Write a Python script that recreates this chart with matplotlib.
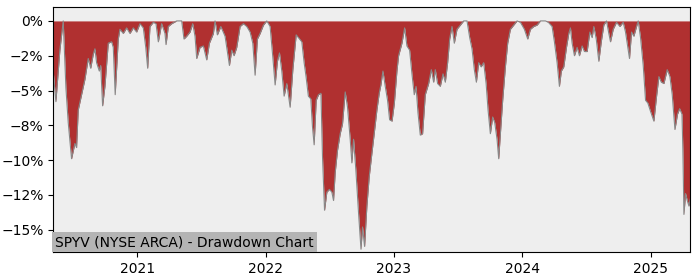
import matplotlib
matplotlib.use("Agg")
import matplotlib.pyplot as plt
import matplotlib.ticker as mticker
import matplotlib.dates as mdates
import pandas as pd

# dates as decimal years, drawdown in percent
years = [
    2020.345, 2020.366, 2020.397, 2020.423, 2020.444, 2020.462, 2020.488, 2020.514,
    2020.527, 2020.540, 2020.566, 2020.592, 2020.618, 2020.637, 2020.657, 2020.670,
    2020.683, 2020.704, 2020.715, 2020.730, 2020.748, 2020.774, 2020.800, 2020.813,
    2020.828, 2020.852, 2020.865, 2020.891, 2020.917, 2020.943, 2020.969, 2020.995,
    2021.021, 2021.047, 2021.066, 2021.081, 2021.099, 2021.125, 2021.146, 2021.164,
    2021.190, 2021.216, 2021.224, 2021.242, 2021.268, 2021.307, 2021.346, 2021.364,
    2021.385, 2021.411, 2021.432, 2021.450, 2021.463, 2021.489, 2021.515, 2021.541,
    2021.562, 2021.593, 2021.606, 2021.624, 2021.651, 2021.684, 2021.718, 2021.736,
    2021.754, 2021.775, 2021.801, 2021.827, 2021.853, 2021.879, 2021.900, 2021.918,
    2021.936, 2021.957, 2021.983, 2022.009, 2022.035, 2022.056, 2022.074, 2022.092,
    2022.108, 2022.126, 2022.144, 2022.165, 2022.191, 2022.212, 2022.238, 2022.256,
    2022.282, 2022.300, 2022.315, 2022.333, 2022.352, 2022.365, 2022.378, 2022.394,
    2022.412, 2022.431, 2022.443, 2022.459, 2022.477, 2022.497, 2022.516, 2022.529,
    2022.542, 2022.560, 2022.581, 2022.599, 2022.620, 2022.638, 2022.659, 2022.672,
    2022.685, 2022.703, 2022.724, 2022.743, 2022.755, 2022.771, 2022.789, 2022.807,
    2022.828, 2022.846, 2022.867, 2022.885, 2022.898, 2022.914, 2022.932, 2022.950,
    2022.966, 2022.985, 2023.003, 2023.023, 2023.036, 2023.062, 2023.083, 2023.101,
    2023.122, 2023.140, 2023.158, 2023.172, 2023.187, 2023.205, 2023.223, 2023.244,
    2023.270, 2023.291, 2023.309, 2023.322, 2023.340, 2023.361, 2023.382, 2023.400,
    2023.418, 2023.434, 2023.452, 2023.470, 2023.491, 2023.517, 2023.543, 2023.569,
    2023.590, 2023.608, 2023.626, 2023.642, 2023.660, 2023.679, 2023.699, 2023.718,
    2023.733, 2023.751, 2023.769, 2023.785, 2023.803, 2023.816, 2023.829, 2023.847,
    2023.868, 2023.886, 2023.907, 2023.933, 2023.959, 2023.985, 2024.016, 2024.042,
    2024.063, 2024.089, 2024.115, 2024.141, 2024.180, 2024.203, 2024.232, 2024.250,
    2024.271, 2024.289, 2024.304, 2024.323, 2024.344, 2024.362, 2024.375, 2024.388,
    2024.406, 2024.427, 2024.445, 2024.466, 2024.484, 2024.505, 2024.526, 2024.544,
    2024.557, 2024.576, 2024.596, 2024.615, 2024.635, 2024.656, 2024.674, 2024.687,
    2024.708, 2024.734, 2024.760, 2024.786, 2024.804, 2024.822, 2024.835, 2024.851,
    2024.869, 2024.890, 2024.903, 2024.921, 2024.942, 2024.960, 2024.978, 2024.999,
    2025.025, 2025.046, 2025.064, 2025.083, 2025.103, 2025.129, 2025.150, 2025.168,
    2025.189, 2025.209, 2025.226, 2025.244, 2025.251, 2025.259, 2025.272, 2025.285,
    2025.298, 2025.308,
]
drawdown = [
    -3.6, -5.8, -2.1, 0.0, -4.8, -7.3, -9.9, -8.8,
    -9.1, -6.4, -5.3, -4.2, -2.7, -3.4, -2.4, -2.0,
    -3.0, -3.6, -3.2, -6.1, -4.7, -1.6, -1.5, -1.9,
    -5.3, -1.3, -0.6, -0.9, -0.5, -0.9, -0.5, -0.8,
    -0.2, -0.5, -1.9, -3.4, -0.4, -0.1, -0.2, -1.5,
    -0.2, -0.9, -1.7, -0.4, -0.2, 0.0, 0.0, -1.3,
    -1.1, -0.8, -0.2, -1.1, -2.7, -1.9, -1.8, -2.8,
    -1.6, -0.9, 0.0, -1.0, -0.4, -1.1, -3.2, -2.1,
    -2.5, -1.9, -0.4, -0.2, -0.4, -0.8, -1.6, -3.9,
    -1.3, -0.9, -0.3, 0.0, -0.4, -2.6, -4.6, -2.9,
    -2.3, -3.6, -5.4, -4.5, -6.2, -3.5, -1.0, -1.2,
    -1.5, -3.0, -4.0, -5.4, -5.6, -7.6, -8.9, -5.7,
    -5.3, -5.2, -9.7, -13.6, -12.3, -12.1, -12.3, -12.9,
    -10.9, -9.3, -8.1, -7.4, -5.1, -6.2, -8.5, -10.2,
    -8.5, -10.7, -13.8, -16.4, -14.8, -16.2, -13.3, -11.2,
    -9.5, -8.1, -6.4, -5.2, -4.6, -3.6, -4.7, -5.7,
    -7.1, -7.2, -5.9, -3.6, -2.5, -1.6, -0.5, -1.8,
    -2.1, -3.8, -5.3, -4.7, -6.6, -8.2, -8.1, -5.3,
    -4.5, -3.5, -4.4, -3.5, -4.5, -4.7, -3.8, -4.4,
    -3.0, -1.3, -0.4, -1.6, -0.6, -0.3, 0.0, 0.0,
    -1.2, -2.0, -3.5, -4.4, -3.0, -3.3, -3.0, -4.5,
    -6.4, -8.1, -6.9, -7.3, -8.5, -9.9, -8.1, -5.7,
    -3.3, -1.6, -0.6, -0.3, 0.0, -0.1, -0.6, -1.3,
    -0.6, -0.4, -0.3, 0.0, 0.0, -0.1, -0.4, -1.5,
    -3.0, -4.7, -3.6, -3.3, -1.9, -0.9, -0.5, -1.6,
    -2.5, -1.9, -2.5, -1.8, -2.2, -2.2, -0.8, -1.2,
    -0.4, -1.3, -2.9, -1.5, -0.3, 0.0, -0.9, -1.5,
    -0.6, -0.1, -0.4, -0.1, -0.8, -1.9, -2.7, -0.8,
    -1.1, -0.4, 0.0, -1.2, -3.2, -5.7, -5.9, -6.5,
    -7.2, -5.4, -4.0, -4.4, -4.5, -3.5, -4.0, -5.3,
    -7.8, -6.7, -6.3, -6.7, -9.3, -13.9, -12.4, -12.9,
    -13.3, -12.8,
]

dates = [pd.Timestamp("2021-01-01") + pd.Timedelta(days=(y - 2021) * 365.25) for y in years]

fig = plt.figure(figsize=(7, 2.8), dpi=100)
ax = fig.add_axes([0.076, 0.1, 0.91, 0.875])
ax.set_facecolor("#eeeeee")

ax.fill_between(dates, drawdown, 0, color="#b03030", linewidth=0)
ax.plot(dates, drawdown, color="#888888", linewidth=0.8)

ax.set_xlim(dates[0], dates[-1])
ax.set_ylim(-16.6, 1.0)
ax.xaxis.set_major_locator(mdates.YearLocator())
ax.xaxis.set_major_formatter(mdates.DateFormatter("%Y"))
ax.yaxis.set_major_locator(mticker.MultipleLocator(2.5))
ax.yaxis.set_major_formatter(mticker.PercentFormatter(decimals=0))

ax.text(0.003, 0.012, "SPYV (NYSE ARCA) - Drawdown Chart", transform=ax.transAxes,
        ha="left", va="bottom", fontsize=10,
        bbox=dict(facecolor="#b4b4b4", edgecolor="none", pad=2))

fig.savefig("out.png")
